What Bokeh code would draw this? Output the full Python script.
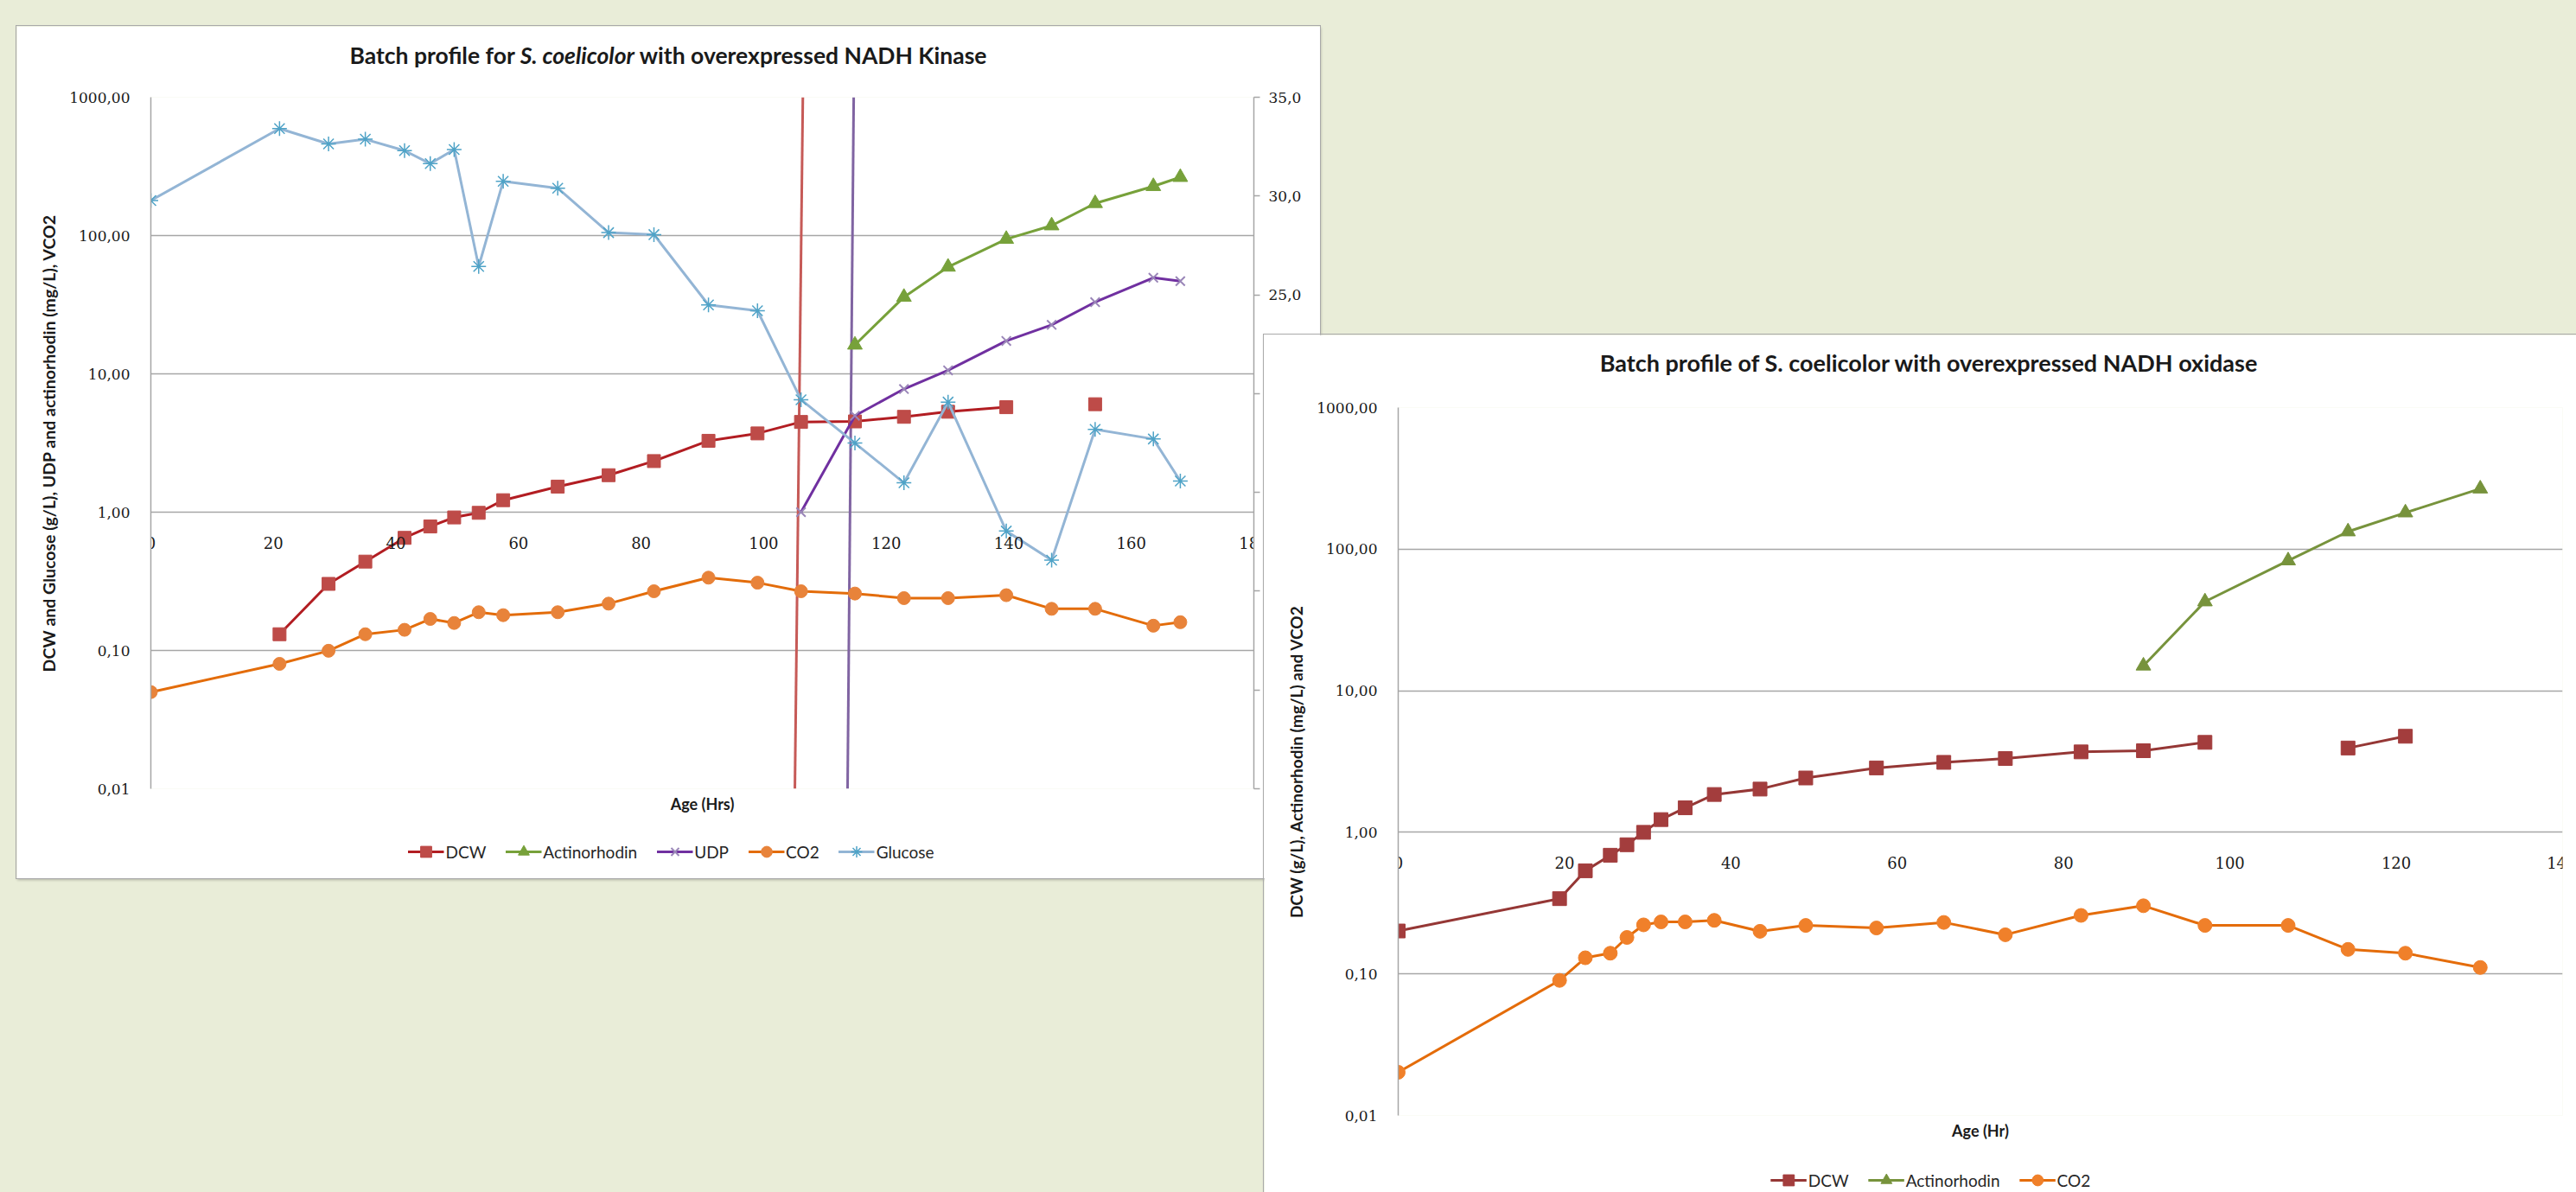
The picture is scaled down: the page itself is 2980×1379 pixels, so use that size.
import numpy as np
from bokeh.plotting import figure
from bokeh.models import (Range1d, LinearAxis, LinearScale, FixedTicker, CustomJSTickFormatter,
                          Legend, LegendItem, Title, Div, GlobalInlineStyleSheet)
from bokeh.layouts import column
from bokeh.embed import file_html
from bokeh.resources import INLINE

nan = float("nan")

# ---------------- Chart 1: NADH Kinase ----------------
k_title_html = "Batch profile for <i>S. coelicolor</i> with overexpressed NADH Kinase"
k_hours = [0, 21, 29, 35, 41.4, 45.6, 49.5, 53.5, 57.5, 66.4, 74.7, 82.1, 91, 99,
           106.1, 114.9, 122.9, 130.1, 139.6, 147, 154.1, 163.6, 168]
k_dcw = [nan, 0.131, 0.303, 0.439, 0.652, 0.788, 0.916, 0.989, 1.22, 1.53, 1.85, 2.34, 3.28, 3.71,
         4.49, 4.53, 4.89, 5.32, 5.74, nan, 6.03, nan, nan]
k_actinorhodin = [nan, nan, nan, nan, nan, nan, nan, nan, nan, nan, nan, nan, nan, nan,
                  nan, 16.2, 35.9, 59.3, 94.2, 118, 171, 227, 264]
k_udp = [nan, nan, nan, nan, nan, nan, nan, nan, nan, nan, nan, nan, nan, nan,
         1.0, 4.98, 7.77, 10.6, 17.3, 22.6, 33.0, 49.5, 46.8]
k_co2 = [0.050, 0.080, 0.0995, 0.131, 0.141, 0.169, 0.158, 0.189, 0.180, 0.189, 0.218, 0.268, 0.336, 0.309,
         0.268, 0.258, 0.239, 0.239, 0.251, 0.200, 0.200, 0.151, 0.160]
k_glucose = [179, 594, 460, 497, 411, 331, 419, 59.8, 247, 220, 105, 101.6, 31.5, 28.6,
             6.5, 3.16, 1.63, 6.25, 0.73, 0.45, 3.97, 3.38, 1.68]
# the two near-vertical lines that cross the whole plot
k_red_line_x = [106.4, 105.1]
k_red_line_y = [1000, 0.01]
k_purple_line_x = [114.7, 113.7]
k_purple_line_y = [1000, 0.01]

k_x_ticks = [0, 20, 40, 60, 80, 100, 120, 140, 160, 180]
k_x_tick_labels = ["0", "20", "40", "60", "80", "100", "120", "140", "160", "180"]
k_right_ticks = [0, 5, 10, 15, 20, 25, 30, 35]
k_right_tick_labels = ["0,0", "5,0", "10,0", "15,0", "20,0", "25,0", "30,0", "35,0"]

# ---------------- Chart 2: NADH oxidase ----------------
o_title_html = "Batch profile of S. coelicolor with overexpressed NADH oxidase"
o_hours = [0, 19.4, 22.5, 25.5, 27.5, 29.5, 31.6, 34.5, 38, 43.5, 49, 57.5, 65.6, 73, 82.1,
           89.6, 97, 107, 114.2, 121.1, 130.1]
o_dcw = [0.201, 0.340, 0.535, 0.689, 0.817, 1.0, 1.23, 1.49, 1.85, 2.02, 2.42, 2.85, 3.12, 3.32, 3.70,
         3.77, 4.32, nan, 3.94, 4.77, nan]
o_actinorhodin = [nan, nan, nan, nan, nan, nan, nan, nan, nan, nan, nan, nan, nan, nan, nan,
                  15.0, 42.6, 83.0, 133, 181, 267]
o_co2 = [0.0202, 0.090, 0.130, 0.140, 0.181, 0.222, 0.233, 0.233, 0.239, 0.200, 0.220, 0.211, 0.231, 0.189, 0.259,
         0.303, 0.220, 0.220, 0.149, 0.140, 0.111]
o_x_ticks = [0, 20, 40, 60, 80, 100, 120, 140]
o_x_tick_labels = ["0", "20", "40", "60", "80", "100", "120", "140"]

y_ticks = [0.01, 0.1, 1, 10, 100, 1000]
y_tick_labels = ["0,01", "0,10", "1,00", "10,00", "100,00", "1000,00"]

# ---------------- styling ----------------
TEXT_FONT = "Lato"
TICK_FONT = "DejaVu Serif"
GRID = "#a6a6a6"
BG = "#e9edd8"

K_STYLES = {  # name: (line colour, marker, size, fill, marker line, marker line width)
    "DCW": ("#b21d22", "square", 15, "#be4b48", None, 1),
    "Actinorhodin": ("#77a13a", "triangle", 17, "#77a13a", None, 1),
    "UDP": ("#7030a0", "x", 15, None, "#9a86b8", 2),
    "CO2": ("#e36c0a", "circle", 15, "#e8833a", None, 1),
    "Glucose": ("#93b5d5", "asterisk", 17, None, "#4fa3c7", 1.5),
}
O_STYLES = {
    "DCW": ("#953735", "square", 16, "#a33d3d", None, 1),
    "Actinorhodin": ("#77933c", "triangle", 17, "#77933c", None, 1),
    "CO2": ("#e46c0a", "circle", 16, "#f0802a", None, 1),
}
K_DATA = {"DCW": k_dcw, "Actinorhodin": k_actinorhodin, "UDP": k_udp, "CO2": k_co2, "Glucose": k_glucose}
O_DATA = {"DCW": o_dcw, "Actinorhodin": o_actinorhodin, "CO2": o_co2}


def fmt(tick_values, tick_texts, use_log):
    return CustomJSTickFormatter(args=dict(tvals=tick_values, ttexts=tick_texts, uselog=use_log), code="""
        let best = 0, dist = Infinity;
        for (let i = 0; i < tvals.length; i++) {
            const d = uselog ? Math.abs(Math.log10(tick) - Math.log10(tvals[i])) : Math.abs(tick - tvals[i]);
            if (d < dist) { dist = d; best = i; }
        }
        return ttexts[best];
    """)


def base_figure(fw, fh, xmax, left, right, top, bottom, x_ticks, x_labels, ylabel, ylabel_size):
    p = figure(frame_width=fw, frame_height=fh, x_range=Range1d(0, xmax), y_range=Range1d(0.01, 1000),
               y_axis_type="log", output_backend="svg", toolbar_location=None,
               min_border_left=left, min_border_right=right, min_border_top=top, min_border_bottom=bottom,
               background_fill_color="white", border_fill_color="white", outline_line_color=None)
    p.xgrid.grid_line_color = None
    p.ygrid.ticker = FixedTicker(ticks=y_ticks)
    p.ygrid.grid_line_color = GRID
    p.ygrid.grid_line_width = 1.5
    xa = p.xaxis[0]
    xa.ticker = FixedTicker(ticks=x_ticks)
    xa.formatter = fmt(x_ticks, x_labels, False)
    xa.fixed_location = 1.0
    xa.axis_line_color = None
    xa.major_tick_line_color = None
    xa.minor_tick_line_color = None
    xa.major_label_standoff = 22
    xa.major_label_text_font = TICK_FONT
    xa.major_label_text_font_size = "18px"
    xa.major_label_text_color = "#1a1a1a"
    ya = p.yaxis[0]
    ya.ticker = FixedTicker(ticks=y_ticks)
    ya.formatter = fmt(y_ticks, y_tick_labels, True)
    ya.axis_line_color = GRID
    ya.axis_line_width = 1.5
    ya.major_tick_line_color = None
    ya.minor_tick_line_color = None
    ya.major_label_standoff = 18
    ya.major_label_text_font = TICK_FONT
    ya.major_label_text_font_size = "17px"
    ya.major_label_text_color = "#1a1a1a"
    ya.axis_label = ylabel
    ya.axis_label_text_font = TEXT_FONT
    ya.axis_label_text_font_size = ylabel_size
    ya.axis_label_text_font_style = "bold"
    ya.axis_label_text_color = "#1a1a1a"
    ya.axis_label_standoff = 9
    p.styles = {"outline": "1px solid #a9a9a9", "box-shadow": "1px 2px 3px rgba(0,0,0,0.25)"}
    return p


def series(p, x, y, style):
    lc, marker, size, fill, mline, mw = style
    xs = np.array(x, dtype=float)
    ys = np.array(y, dtype=float)
    lr = p.line(xs, ys, line_color=lc, line_width=3)
    sr = p.scatter(xs, ys, marker=marker, size=size, fill_color=fill, line_color=mline or fill, line_width=mw)
    return [lr, sr]


# the column layout aligns plot borders across its children; legend panels get these borders too
ALIGN_LEFT, ALIGN_RIGHT = 155, 79
LEG_FRAME_W = 700


def legend_figure(hours, data, styles):
    """Legend panel: the same series drawn again, but with an x range that shows none of them,
    so only the legend (entries with the series' own line/marker styles) is visible."""
    f = figure(width=ALIGN_LEFT + LEG_FRAME_W + ALIGN_RIGHT, height=40,
               x_range=Range1d(-2, -1), y_range=Range1d(0, 1),
               x_axis_type=None, y_axis_type=None, toolbar_location=None, output_backend="svg",
               min_border=0, outline_line_color=None, background_fill_color=None, border_fill_color=None)
    items = []
    for name, style in styles.items():
        items.append(LegendItem(label=name, renderers=series(f, hours, data[name], style)))
    leg = Legend(items=items, location="center", orientation="horizontal",
                 border_line_color=None, background_fill_alpha=0,
                 label_text_font=TEXT_FONT, label_text_font_size="19px", label_text_color="#262626",
                 glyph_width=42, glyph_height=32, label_height=32, label_standoff=2,
                 spacing=22, padding=0, margin=0)
    f.add_layout(leg, "center")
    return f


def xtitle(p, text, standoff):
    p.add_layout(Title(text=text, align="center", text_font=TEXT_FONT, text_font_size="18px",
                       text_font_style="bold", text_color="#1a1a1a", standoff=standoff), "below")


# ---------------- build chart 1 ----------------
L1, R1, T1, B1 = 153, 79, 82, 104
FW1, FH1 = 1276, 800
H1 = T1 + FH1 + B1
p1 = base_figure(FW1, FH1, 180, L1, R1, T1, B1, k_x_ticks, k_x_tick_labels,
                 "DCW and Glucose (g/L), UDP and actinorhodin (mg/L), VCO2", "19.5px")
p1.extra_y_ranges = {"right": Range1d(0, 35)}
p1.extra_y_scales = {"right": LinearScale()}
ra = LinearAxis(y_range_name="right", ticker=FixedTicker(ticks=k_right_ticks),
                formatter=fmt(k_right_ticks, k_right_tick_labels, False))
ra.axis_line_color = GRID
ra.axis_line_width = 1.5
ra.major_tick_line_color = GRID
ra.major_tick_line_width = 1.5
ra.major_tick_out = 7
ra.major_tick_in = 0
ra.minor_tick_line_color = None
ra.major_label_standoff = 10
ra.major_label_text_font = TICK_FONT
ra.major_label_text_font_size = "17px"
ra.major_label_text_color = "#1a1a1a"
p1.add_layout(ra, "right")

p1.line(k_red_line_x, k_red_line_y, line_color="#c65a57", line_width=3)
p1.line(k_purple_line_x, k_purple_line_y, line_color="#8064a2", line_width=3)

for name in K_STYLES:
    series(p1, k_hours, K_DATA[name], K_STYLES[name])
xtitle(p1, "Age (Hrs)", 8)

# ---------------- build chart 2 ----------------
L2, R2, T2, B2 = 155, 16, 84, 89
FW2, FH2 = 1347, 819
H2 = T2 + FH2 + B2
p2 = base_figure(FW2, FH2, 140, L2, R2, T2, B2, o_x_ticks, o_x_tick_labels,
                 "DCW (g/L), Actinorhodin (mg/L) and VCO2", "19px")
for name in O_STYLES:
    series(p2, o_hours, O_DATA[name], O_STYLES[name])
xtitle(p2, "Age (Hr)", 8)


def title_div(html, size):
    return Div(text=html, width=1400, height=36,
               styles={"font-family": TEXT_FONT, "font-size": size, "font-weight": "bold",
                       "color": "#1a1a1a", "text-align": "center", "line-height": "36px",
                       "white-space": "nowrap"})


d1 = title_div(k_title_html, "26.5px")
d2 = title_div(o_title_html, "27px")
lf1 = legend_figure(k_hours, K_DATA, K_STYLES)
lf2 = legend_figure(o_hours, O_DATA, O_STYLES)

# ---------------- overlapping page layout (absolute placement via margins) ----------------
lx = lambda cx: cx - LEG_FRAME_W // 2 - ALIGN_LEFT
placements = [(p1, 19, 30, H1), (d1, 773 - 700, 64 - 18, 36), (lf1, lx(776), 985 - 20, 40),
              (p2, 1462, 387, H2), (d2, 2231 - 700, 420 - 18, 36), (lf2, lx(2233), 1365 - 20, 40)]
cursor = 0
for obj, x, y, h in placements:
    obj.margin = (y - cursor, 0, 0, x)
    cursor = y + h
root = column([obj for obj, *_ in placements], spacing=0)
root.stylesheets = [GlobalInlineStyleSheet(
    css="html, body { margin: 0 !important; padding: 0; background-color: %s; overflow: hidden; }" % BG)]

open("out.html", "w").write(file_html(root, INLINE))
